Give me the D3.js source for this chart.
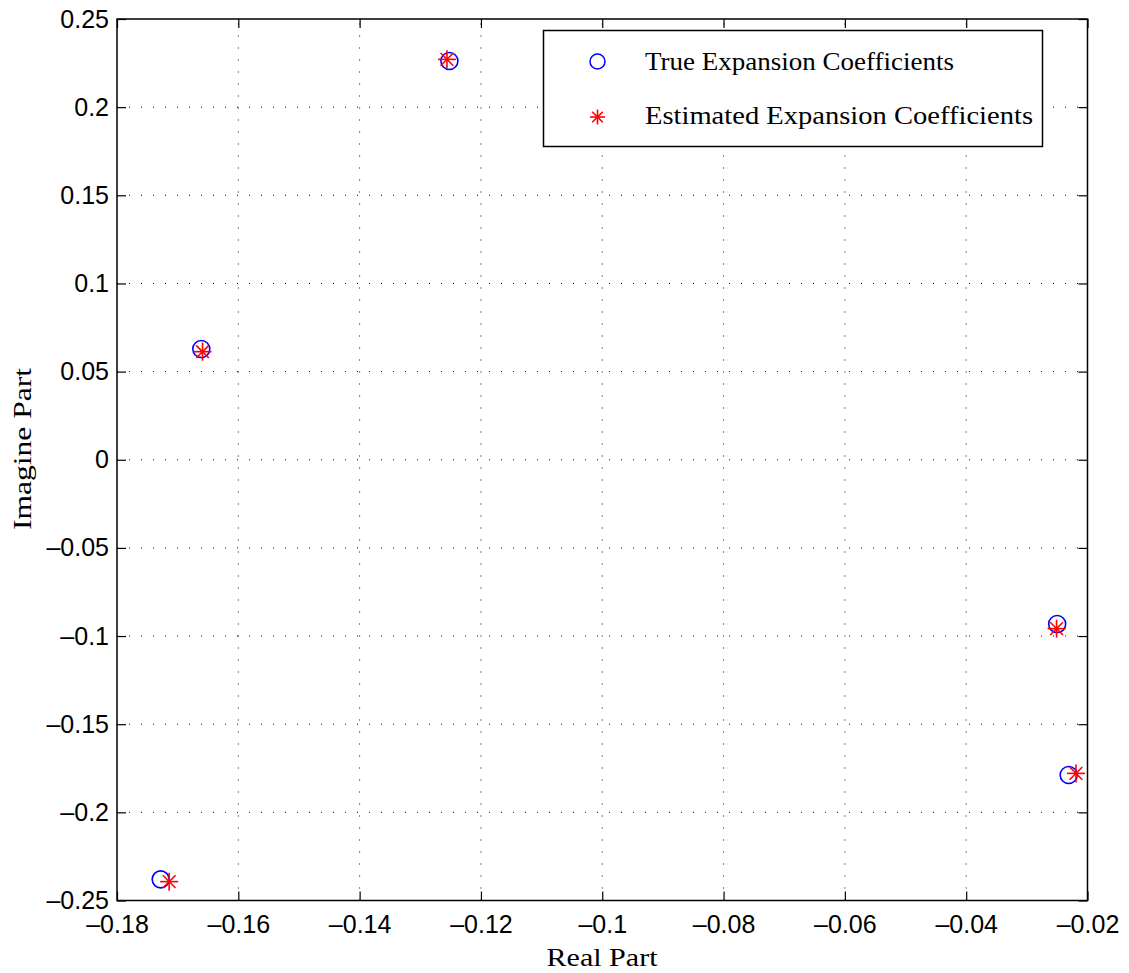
<!DOCTYPE html>
<html>
<head>
<meta charset="utf-8">
<script src="https://cdn.jsdelivr.net/npm/d3@7"></script>
<style>
  body { margin: 0; background: #fff; }
  .tick text { font-family: "Liberation Sans", Arial, sans-serif; font-size: 25px; fill: #000; }
  .lbl { font-family: "Liberation Serif", "DejaVu Serif", serif; font-size: 26px; fill: #000; }
</style>
</head>
<body>
<svg id="chart" width="1129" height="973"></svg>
<script>
// true and estimated coefficients (real, imag)
var trueRe = [-0.1252, -0.1661, -0.0250, -0.0231, -0.1728];
var trueIm = [ 0.2262,  0.0628, -0.0932, -0.1788, -0.2380];
var estRe  = [-0.1256, -0.1659, -0.0251, -0.0219, -0.1714];
var estIm  = [ 0.2271,  0.0613, -0.0958, -0.1779, -0.2393];

var xTicks = [-0.18, -0.16, -0.14, -0.12, -0.1, -0.08, -0.06, -0.04, -0.02];
var yTicks = [0.25, 0.2, 0.15, 0.1, 0.05, 0, -0.05, -0.1, -0.15, -0.2, -0.25];
var legendNames = ["True Expansion Coefficients", "Estimated Expansion Coefficients"];

var pLeft = 117, pRight = 1087.5, pTop = 19, pBottom = 900.5;

var svg = d3.select("#chart");
var x = d3.scaleLinear().domain([-0.18, -0.02]).range([pLeft, pRight]);
var y = d3.scaleLinear().domain([-0.25, 0.25]).range([pBottom, pTop]);

function fmt(v) {
    var s = (Math.round(v * 100) / 100).toString();
    return s.replace("-", "\u2013");
}

/* Gitterlinien (gepunktet) */
var grid = svg.append("g").attr("stroke", "#000").attr("stroke-width", 1)
    .attr("stroke-dasharray", "1,11");
grid.selectAll(".gx").data(xTicks.slice(1, -1)).enter().append("line")
    .attr("x1", function(d) { return x(d); }).attr("x2", function(d) { return x(d); })
    .attr("y1", pBottom).attr("y2", pTop);
grid.selectAll(".gy").data(yTicks.slice(1, -1)).enter().append("line")
    .attr("y1", function(d) { return y(d); }).attr("y2", function(d) { return y(d); })
    .attr("x1", pLeft).attr("x2", pRight);

/* Achsen */
var xAxis = d3.axisBottom(x).tickValues(xTicks).tickSize(-9).tickPadding(15).tickFormat(fmt);
var yAxis = d3.axisLeft(y).tickValues(yTicks).tickSize(-9).tickPadding(8).tickFormat(fmt);

svg.append("g").attr("transform", "translate(0," + pBottom + ")").call(xAxis)
    .call(function(g) { g.select(".domain").remove(); });
svg.append("g").attr("transform", "translate(" + pLeft + ",0)").call(yAxis)
    .call(function(g) { g.select(".domain").remove(); });
svg.append("g").attr("transform", "translate(0," + pTop + ")")
    .call(d3.axisTop(x).tickValues(xTicks).tickSize(-9).tickFormat(""))
    .call(function(g) { g.select(".domain").remove(); });
svg.append("g").attr("transform", "translate(" + pRight + ",0)")
    .call(d3.axisRight(y).tickValues(yTicks).tickSize(-9).tickFormat(""))
    .call(function(g) { g.select(".domain").remove(); });
svg.selectAll(".tick line").attr("stroke", "#000").attr("stroke-width", 1.2);

svg.append("rect").attr("x", pLeft).attr("y", pTop)
    .attr("width", pRight - pLeft).attr("height", pBottom - pTop)
    .attr("fill", "none").attr("stroke", "#000").attr("stroke-width", 1.5);

/* Marker */
function star(g, cx, cy, r) {
    for (var k = 0; k < 4; k++) {
        var a = k * Math.PI / 4;
        g.append("line")
            .attr("x1", cx - r * Math.cos(a)).attr("y1", cy - r * Math.sin(a))
            .attr("x2", cx + r * Math.cos(a)).attr("y2", cy + r * Math.sin(a))
            .attr("stroke", "#ff0000").attr("stroke-width", 1.6);
    }
}

svg.append("g").selectAll("circle").data(d3.range(trueRe.length)).enter().append("circle")
    .attr("cx", function(i) { return x(trueRe[i]); })
    .attr("cy", function(i) { return y(trueIm[i]); })
    .attr("r", 8.5).attr("fill", "none").attr("stroke", "#0000ff").attr("stroke-width", 1.6);

var stars = svg.append("g");
estRe.forEach(function(v, i) { star(stars, x(v), y(estIm[i]), 9); });

/* Legende */
var lg = svg.append("g");
lg.append("rect").attr("x", 543.5).attr("y", 30.5).attr("width", 499).attr("height", 116)
    .attr("fill", "#fff").attr("stroke", "#000").attr("stroke-width", 1.5);
lg.append("circle").attr("cx", 597.5).attr("cy", 61.5).attr("r", 7.5)
    .attr("fill", "none").attr("stroke", "#0000ff").attr("stroke-width", 1.5);
star(lg, 597.5, 117, 7.5);
lg.append("text").attr("class", "lbl").attr("x", 645).attr("y", 69.5)
    .attr("textLength", 309).attr("lengthAdjust", "spacingAndGlyphs").text(legendNames[0]);
lg.append("text").attr("class", "lbl").attr("x", 645).attr("y", 124)
    .attr("textLength", 388).attr("lengthAdjust", "spacingAndGlyphs").text(legendNames[1]);

/* Achsenbeschriftungen */
svg.append("text").attr("class", "lbl").attr("x", 602).attr("y", 966)
    .attr("text-anchor", "middle").attr("textLength", 111).attr("lengthAdjust", "spacingAndGlyphs")
    .text("Real Part");
svg.append("text").attr("class", "lbl")
    .attr("transform", "translate(31,449) rotate(-90)")
    .attr("text-anchor", "middle").attr("textLength", 162).attr("lengthAdjust", "spacingAndGlyphs")
    .text("Imagine Part");
</script>
</body>
</html>
